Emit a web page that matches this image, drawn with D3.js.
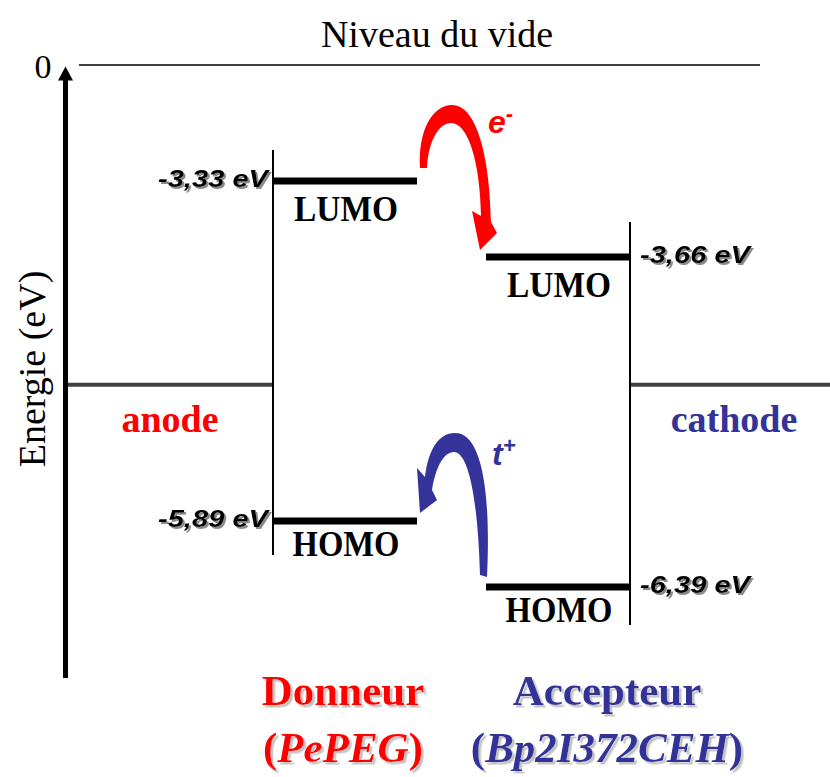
<!DOCTYPE html>
<html>
<head>
<meta charset="utf-8">
<script src="https://cdn.jsdelivr.net/npm/d3@7"></script>
<style>
  html, body { margin: 0; padding: 0; background: #fff; }
  svg { display: block; }
</style>
</head>
<body>
<div id="chart"></div>
<script>
// ---------- data ----------
const materials = ["Donneur", "Accepteur"];
const materialNames = ["PePEG", "Bp2I372CEH"];
const materialColors = ["#ff0000", "#333399"];
const lumoLevels = [-3.33, -3.66];
const homoLevels = [-5.89, -6.39];
const levelLabels = [["-3,33 eV", "-5,89 eV"], ["-3,66 eV", "-6,39 eV"]];
const vacuumLevel = 0;
const electrodeLevel = -4.74;
const electrodeNames = ["anode", "cathode"];
const axisTitle = "Energie (eV)";
const vacuumTitle = "Niveau du vide";
const carriers = ["e", "t"];
const carrierSigns = ["-", "+"];

// ---------- layout ----------
const W = 830, H = 777;
const svg = d3.select("#chart").append("svg").attr("width", W).attr("height", H);

const defs = svg.append("defs");
defs.append("filter").attr("id", "shadowDark").attr("x", "-10%").attr("y", "-30%").attr("width", "130%").attr("height", "160%")
  .append("feDropShadow").attr("dx", 2).attr("dy", 2).attr("stdDeviation", 0.4)
  .attr("flood-color", "#8a8a8a").attr("flood-opacity", 1);
defs.append("filter").attr("id", "shadowLight").attr("x", "-10%").attr("y", "-30%").attr("width", "130%").attr("height", "160%")
  .append("feDropShadow").attr("dx", 2.5).attr("dy", 2.5).attr("stdDeviation", 0.5)
  .attr("flood-color", "#c4c4c4").attr("flood-opacity", 1);

// schematic (piecewise-linear) energy scale as drawn in the reference
const y = d3.scaleLinear()
  .domain([vacuumLevel, lumoLevels[0], lumoLevels[1], homoLevels[0], homoLevels[1]])
  .range([65, 181, 257, 521, 587]);

const axisX = 65.5;
const cols = [{x0: 273, x1: 417, side: "left", nameX: 343}, {x0: 486, x1: 630, side: "right", nameX: 607}];
const serif = "'Liberation Serif','Times New Roman',serif";
const sans = "'Liberation Sans',Arial,sans-serif";

// vacuum line
svg.append("line").attr("x1", 79).attr("x2", 760)
  .attr("y1", y(vacuumLevel)).attr("y2", y(vacuumLevel))
  .attr("stroke", "#000").attr("stroke-width", 1.6);
svg.append("text").attr("x", 437).attr("y", y(vacuumLevel) - 18)
  .attr("text-anchor", "middle").attr("font-family", serif).attr("font-size", 38)
  .text(vacuumTitle);

// electrode lines
const eY = y(electrodeLevel);
svg.append("line").attr("x1", axisX).attr("x2", cols[0].x0).attr("y1", eY).attr("y2", eY)
  .attr("stroke", "#404040").attr("stroke-width", 4);
svg.append("line").attr("x1", cols[1].x1).attr("x2", W).attr("y1", eY).attr("y2", eY)
  .attr("stroke", "#404040").attr("stroke-width", 4);
svg.append("text").attr("x", 170).attr("y", eY + 47).attr("text-anchor", "middle")
  .attr("font-family", serif).attr("font-weight", "bold").attr("font-size", 38)
  .attr("fill", materialColors[0]).text(electrodeNames[0]);
svg.append("text").attr("x", 734).attr("y", eY + 47).attr("text-anchor", "middle")
  .attr("font-family", serif).attr("font-weight", "bold").attr("font-size", 38)
  .attr("fill", materialColors[1]).text(electrodeNames[1]);

// energy axis (arrow)
svg.append("line").attr("x1", axisX).attr("x2", axisX).attr("y1", 678).attr("y2", y(vacuumLevel) + 12)
  .attr("stroke", "#000").attr("stroke-width", 5);
const tipY = y(vacuumLevel) + 1.5;
svg.append("path")
  .attr("d", `M${axisX},${tipY} L${axisX - 7.5},${tipY + 14} L${axisX + 7.5},${tipY + 14} Z`)
  .attr("fill", "#000");
svg.append("text").attr("x", 43).attr("y", y(vacuumLevel) + 13).attr("text-anchor", "middle")
  .attr("font-family", serif).attr("font-size", 34).text(String(vacuumLevel));
svg.append("text").attr("transform", `translate(45,${369}) rotate(-90)`)
  .attr("text-anchor", "middle").attr("font-family", serif).attr("font-size", 38)
  .text(axisTitle);

// material columns
const vExt = [[y(lumoLevels[0]) - 31, y(homoLevels[0]) + 34], [y(lumoLevels[1]) - 35, y(homoLevels[1]) + 38]];
cols.forEach((c, i) => {
  const edgeX = c.side === "left" ? c.x0 : c.x1;
  svg.append("line").attr("x1", edgeX).attr("x2", edgeX)
    .attr("y1", vExt[i][0]).attr("y2", vExt[i][1])
    .attr("stroke", "#000").attr("stroke-width", 2);
  [[lumoLevels[i], "LUMO", levelLabels[i][0]], [homoLevels[i], "HOMO", levelLabels[i][1]]].forEach(([v, name, lab], k) => {
    const ly = y(v);
    svg.append("line").attr("x1", c.x0).attr("x2", c.x1).attr("y1", ly).attr("y2", ly)
      .attr("stroke", "#000").attr("stroke-width", 7);
    svg.append("text").attr("x", (c.x0 + c.x1) / 2 + 1).attr("y", ly + (k === 0 ? 40 : 35))
      .attr("text-anchor", "middle").attr("font-family", serif).attr("font-weight", "bold")
      .attr("font-size", 36).attr("textLength", k === 0 ? 104 : 107).attr("lengthAdjust", "spacingAndGlyphs")
      .text(name);
    const lx = c.side === "left" ? c.x0 - 5 : c.x1 + 10;
    const anchor = c.side === "left" ? "end" : "start";
    svg.append("text").attr("x", lx).attr("y", ly + 6)
      .attr("text-anchor", anchor).attr("font-family", sans).attr("font-weight", "bold")
      .attr("font-style", "italic").attr("font-size", 24)
      .attr("textLength", 110).attr("lengthAdjust", "spacingAndGlyphs")
      .attr("filter", "url(#shadowDark)")
      .attr("fill", "#000").text(lab);
  });
  // material names with soft shadow
  const cx = c.nameX;
  svg.append("text").attr("x", cx).attr("y", 705).attr("text-anchor", "middle")
    .attr("font-family", serif).attr("font-weight", "bold").attr("font-size", 43)
    .attr("filter", "url(#shadowLight)")
    .attr("fill", materialColors[i]).text(materials[i]);
  const t = svg.append("text").attr("x", cx).attr("y", 762).attr("text-anchor", "middle")
    .attr("font-family", serif).attr("font-weight", "bold").attr("font-size", 43)
    .attr("filter", "url(#shadowLight)")
    .attr("fill", materialColors[i]);
  t.append("tspan").text("(");
  t.append("tspan").attr("font-style", "italic").text(materialNames[i]);
  t.append("tspan").text(")");
});

// electron transfer arrow (donor LUMO -> acceptor LUMO)
const dL = y(lumoLevels[0]), aL = y(lumoLevels[1]);
const x1 = cols[0].x1, x2 = cols[1].x0;
svg.append("path").attr("fill", materialColors[0]).attr("d", [
  `M${x1 + 3},${dL - 13}`,
  `C${x1 + 1},${dL - 50} ${x1 + 15},${dL - 76} ${x1 + 35},${dL - 76}`,
  `C${x1 + 61},${dL - 76} ${x1 + 73},${dL - 20} ${x1 + 74},${aL - 35}`,
  `L${x1 + 80},${aL - 24}`,
  `L${x2 - 6},${aL - 7}`,
  `L${x1 + 55},${aL - 46}`,
  `L${x1 + 64},${aL - 41}`,
  `C${x1 + 63},${dL - 20} ${x1 + 51},${dL - 58} ${x1 + 34},${dL - 58}`,
  `C${x1 + 21},${dL - 58} ${x1 + 11},${dL - 38} ${x1 + 10},${dL - 13}`,
  "Z"].join(" "));

// hole transfer arrow (acceptor HOMO -> donor HOMO)
const dH = y(homoLevels[0]), aH = y(homoLevels[1]);
svg.append("path").attr("fill", materialColors[1]).attr("d", [
  `M${x2 + 1},${aH - 10}`,
  `C${x2 + 5},${aH - 95} ${x2 - 4},${dH - 88} ${x2 - 31},${dH - 88}`,
  `C${x2 - 48},${dH - 88} ${x2 - 58},${dH - 70} ${x2 - 61},${dH - 44}`,
  `L${x2 - 69},${dH - 53}`,
  `L${x2 - 66},${dH - 8}`,
  `L${x2 - 49},${dH - 21}`,
  `L${x2 - 54},${dH - 31}`,
  `C${x2 - 50},${dH - 55} ${x2 - 42},${dH - 69} ${x2 - 32},${dH - 69}`,
  `C${x2 - 17},${dH - 69} ${x2 - 8},${aH - 85} ${x2 - 6},${aH - 12}`,
  "Z"].join(" "));

// carrier labels
const carrierPos = [[x1 + 71, dL - 48], [x1 + 75, dH - 56]];
carriers.forEach((c, i) => {
  const t = svg.append("text").attr("x", carrierPos[i][0]).attr("y", carrierPos[i][1])
    .attr("font-family", sans).attr("font-weight", "bold").attr("font-style", "italic")
    .attr("font-size", 32).attr("fill", materialColors[i]);
  t.append("tspan").text(c);
  t.append("tspan").attr("font-size", 22).attr("dy", -12).attr("dx", 0).text(carrierSigns[i]);
});
</script>
</body>
</html>
